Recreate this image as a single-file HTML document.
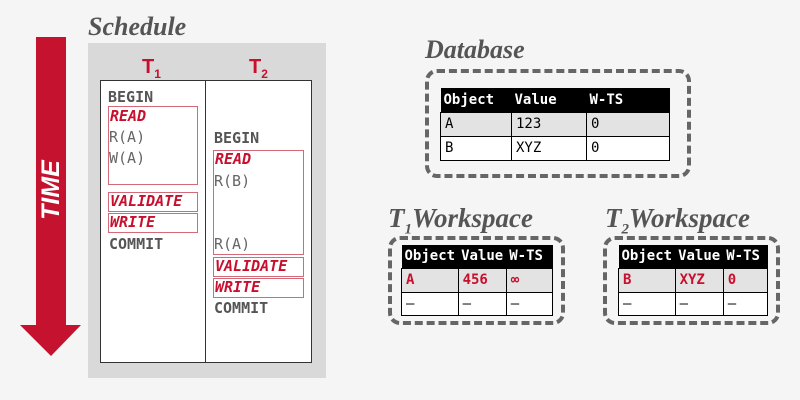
<!DOCTYPE html>
<html><head><meta charset="utf-8"><style>
body{margin:0;width:800px;height:400px;overflow:hidden;background:#f5f5f5;position:relative;font-family:"Liberation Sans",sans-serif}
.a{position:absolute}
.title{font-family:"Liberation Serif",serif;font-style:italic;font-weight:bold;color:#555;font-size:26px}
.m{font-family:"DejaVu Sans Mono","Liberation Mono",monospace;font-size:15px;color:#666;position:absolute}
.mb{font-weight:bold;color:#555}
.r{color:#c8102e;font-style:italic;font-weight:bold}
.box{position:absolute;border:1.5px solid #d46a78}
.dash{position:absolute;border:4px dashed #666;border-radius:12px}
table{position:absolute;border-collapse:collapse;font-family:"DejaVu Sans Mono","Liberation Mono",monospace;font-size:14px}
th{background:#000;color:#fff;text-align:left;font-weight:bold;padding:0 3px;white-space:nowrap}
td{border:1px solid #000;padding:0 4px;background:#fff}
tr.g td{background:#e3e3e3}
.red td{color:#c8102e;font-weight:bold}
</style></head><body>
<svg class="a" style="left:0;top:0" width="100" height="400">
<polygon points="36,37 66,37 66,325 81,325 51,356 20,325 36,325" fill="#c4122f"/>
<text x="0" y="0" transform="translate(59,190) rotate(-90)" text-anchor="middle" fill="#fff" font-family="Liberation Sans" font-weight="bold" font-style="italic" font-size="25">TIME</text>
</svg>
<div class="a title" style="left:88px;top:12px">Schedule</div>
<div class="a" style="left:88px;top:43px;width:238px;height:335px;background:#d9d9d9"></div>
<div class="a" style="left:142px;top:56px;color:#c8102e;font-size:20px;font-weight:bold">T<sub style="font-size:12px">1</sub></div>
<div class="a" style="left:249px;top:56px;color:#c8102e;font-size:20px;font-weight:bold">T<sub style="font-size:12px">2</sub></div>
<div class="a" style="left:100px;top:80px;width:210px;height:281px;background:#fff;border:1px solid #333"></div>
<div class="a" style="left:205px;top:80px;width:1px;height:282px;background:#333"></div>
<div class="m mb" style="left:108px;top:88px">BEGIN</div>
<div class="box" style="left:108px;top:106px;width:88px;height:77px"></div>
<div class="m r" style="left:110px;top:107px">READ</div>
<div class="m" style="left:109px;top:128px">R(A)</div>
<div class="m" style="left:109px;top:149px">W(A)</div>
<div class="box" style="left:108px;top:192px;width:88px;height:18px"></div>
<div class="m r" style="left:110px;top:192px">VALIDATE</div>
<div class="box" style="left:108px;top:213px;width:88px;height:18px"></div>
<div class="m r" style="left:110px;top:213px">WRITE</div>
<div class="m mb" style="left:109px;top:235px">COMMIT</div>
<div class="m mb" style="left:214px;top:129px">BEGIN</div>
<div class="box" style="left:213px;top:150px;width:89px;height:103px"></div>
<div class="m r" style="left:215px;top:150px">READ</div>
<div class="m" style="left:214px;top:172px">R(B)</div>
<div class="m" style="left:214px;top:235px">R(A)</div>
<div class="box" style="left:213px;top:257px;width:89px;height:18px"></div>
<div class="m r" style="left:215px;top:257px">VALIDATE</div>
<div class="box" style="left:213px;top:278px;width:89px;height:18px"></div>
<div class="m r" style="left:215px;top:278px">WRITE</div>
<div class="m mb" style="left:214px;top:299px">COMMIT</div>

<div class="a title" style="left:425px;top:35px">Database</div>
<div class="dash" style="left:425px;top:69px;width:258px;height:101px"></div>
<table style="left:440px;top:88px;width:230px">
<tr style="height:24px"><th style="width:65px">Object</th><th style="width:69px">Value</th><th>W-TS</th></tr>
<tr class="g" style="height:24px"><td>A</td><td>123</td><td>0</td></tr>
<tr style="height:24px"><td>B</td><td>XYZ</td><td>0</td></tr>
</table>

<div class="a title" style="left:388px;top:203px;font-size:27px">T<sub style="font-size:15px">1</sub>Workspace</div>
<div class="dash" style="left:388px;top:236px;width:169px;height:81px"></div>
<table style="left:401px;top:245px;width:152px">
<tr style="height:23px"><th style="width:44px">Object</th><th style="width:42px">Value</th><th>W-TS</th></tr>
<tr class="g red" style="height:24px"><td>A</td><td>456</td><td>∞</td></tr>
<tr style="height:23px"><td>–</td><td>–</td><td>–</td></tr>
</table>

<div class="a title" style="left:605px;top:203px;font-size:27px">T<sub style="font-size:15px">2</sub>Workspace</div>
<div class="dash" style="left:603px;top:236px;width:169px;height:81px"></div>
<table style="left:618px;top:245px;width:150px">
<tr style="height:23px"><th style="width:44px">Object</th><th style="width:42px">Value</th><th>W-TS</th></tr>
<tr class="g red" style="height:24px"><td>B</td><td>XYZ</td><td>0</td></tr>
<tr style="height:23px"><td>–</td><td>–</td><td>–</td></tr>
</table>
</body></html>
